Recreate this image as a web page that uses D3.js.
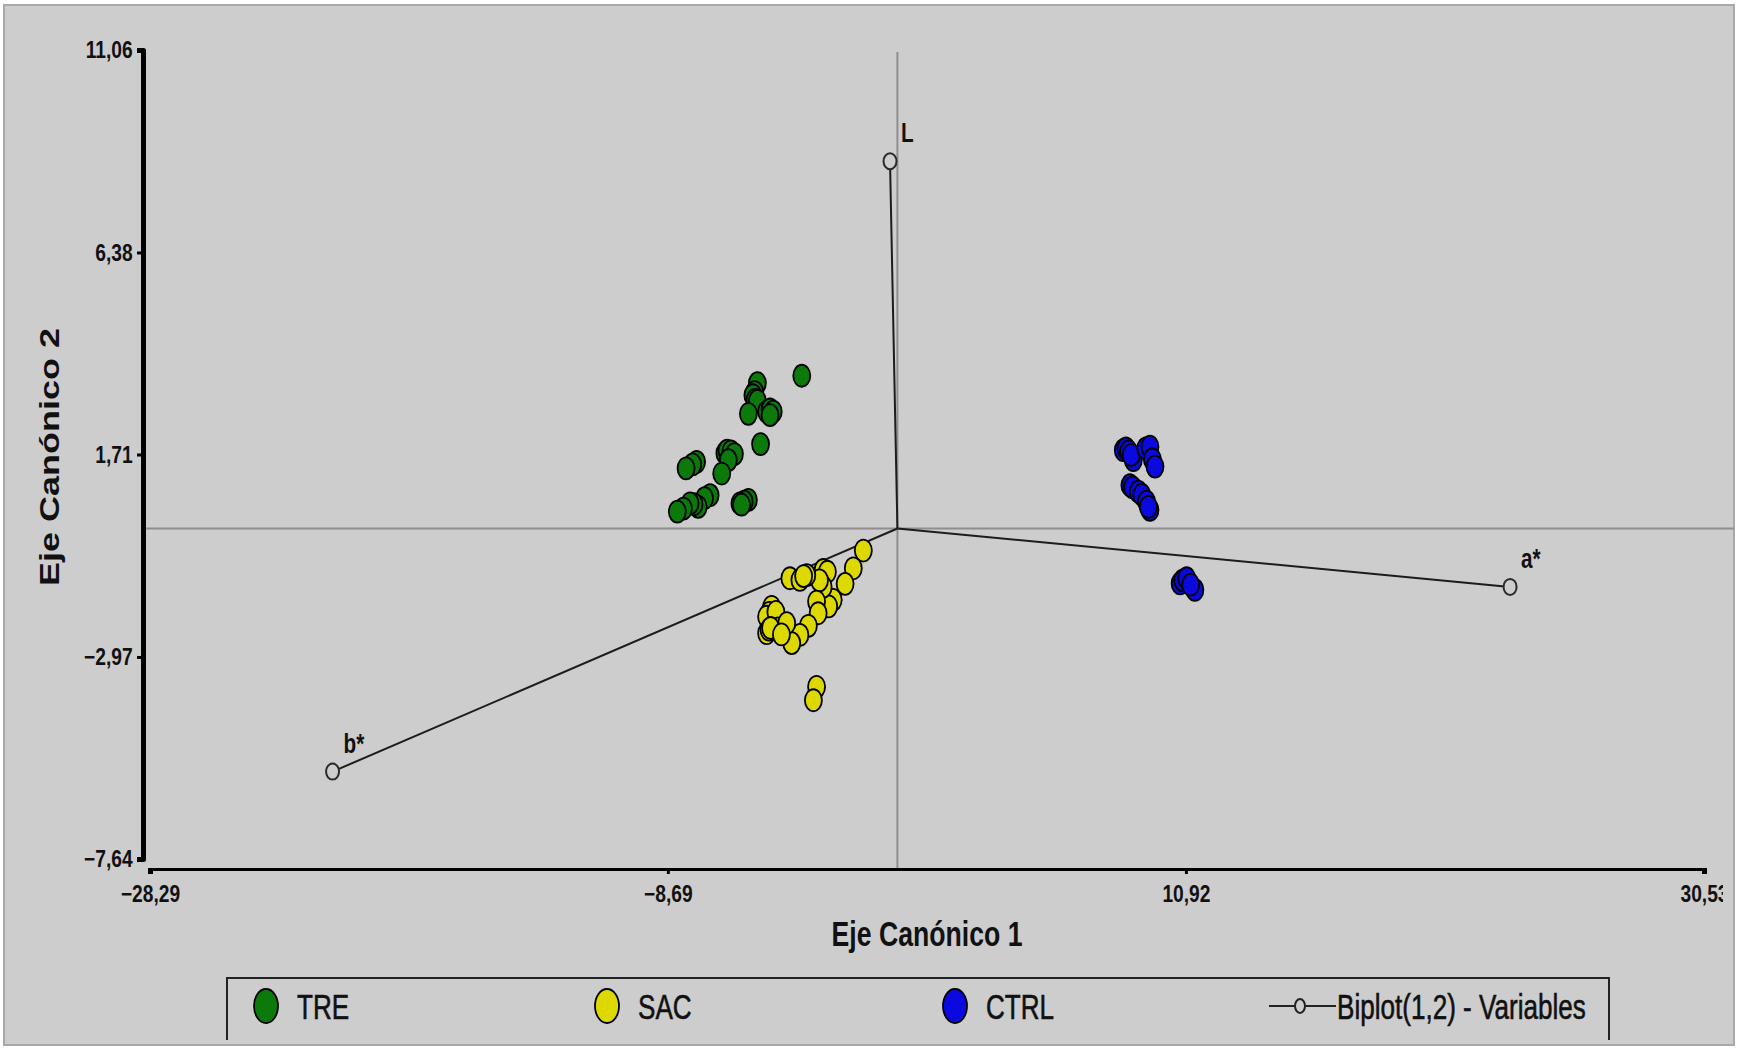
<!DOCTYPE html>
<html>
<head>
<meta charset="utf-8">
<script src="https://cdn.jsdelivr.net/npm/d3@7"></script>
<style>
  body { margin: 0; background: #fff; }
  svg { display: block; font-family: "Liberation Sans", Arial, sans-serif; }
</style>
</head>
<body>
<div id="chart"></div>
<script>
// Canonical scores per group, [eje 1, eje 2]
const treScores = [
  [-3.62, 3.53], [-5.30, 3.36], [-5.40, 3.15], [-5.47, 3.08], [-5.39, 2.97], [-5.30, 2.95],
  [-5.64, 2.65], [-4.95, 2.70], [-4.82, 2.75], [-4.70, 2.70], [-4.82, 2.62], [-5.18, 1.95],
  [-6.53, 1.74], [-6.45, 1.80], [-6.30, 1.78], [-6.17, 1.72], [-6.40, 1.58], [-6.65, 1.27],
  [-7.60, 1.54], [-7.75, 1.48], [-8.00, 1.39], [-7.09, 0.77], [-7.30, 0.70], [-7.54, 0.50],
  [-7.70, 0.56], [-7.85, 0.58], [-8.10, 0.46], [-8.33, 0.39], [-5.64, 0.66], [-5.80, 0.62],
  [-5.96, 0.58], [-5.90, 0.55]
];
const sacScores = [
  [-1.29, -0.51], [-1.67, -0.92], [-1.98, -1.28], [-2.43, -1.65], [-2.60, -1.80], [-2.81, -0.96],
  [-2.65, -1.00], [-2.81, -1.35], [-2.95, -1.20], [-3.06, -1.69], [-3.00, -1.96], [-3.37, -2.25],
  [-3.69, -2.46], [-4.00, -2.65], [-4.07, -1.15], [-3.69, -1.19], [-3.43, -1.08], [-3.55, -1.10],
  [-4.76, -1.81], [-4.85, -1.95], [-4.95, -2.04], [-4.60, -1.93], [-4.51, -2.31], [-4.95, -2.42],
  [-4.86, -2.34], [-4.80, -2.30], [-4.19, -2.19], [-4.39, -2.45], [-3.06, -3.66], [-3.18, -3.97]
];
const ctrlScores = [
  [8.55, 1.81], [8.65, 1.85], [8.75, 1.78], [8.93, 1.58], [8.85, 1.70], [9.40, 1.85],
  [9.56, 1.89], [9.65, 1.60], [9.75, 1.43], [8.80, 1.00], [8.90, 0.95], [9.12, 0.85],
  [9.25, 0.78], [9.43, 0.62], [9.56, 0.43], [9.50, 0.50], [10.70, -1.27], [10.80, -1.20],
  [10.95, -1.15], [11.26, -1.42], [11.10, -1.30]
];

const groupNames = ["TRE", "SAC", "CTRL"];
const groupColors = ["#0b7a0b", "#dcd800", "#0a0ae0"];

// Biplot variables
const varNames = ["L", "a*", "b*"];
const varX = [-0.28, 23.19, -21.38];
const varY = [8.49, -1.35, -5.62];

// Tick labels
const xTicks = [-28.29, -8.69, 10.92, 30.53];
const yTicks = [-7.64, -2.97, 1.71, 6.38, 11.06];

const W = 1738, H = 1049;
const bg = "#cdcdcd";
const squeeze = 0.74;

const svg = d3.select("#chart").append("svg")
  .attr("width", W)
  .attr("height", H);

// frame
svg.append("rect")
  .attr("x", 4).attr("y", 5)
  .attr("width", 1730).attr("height", 1040)
  .attr("fill", bg)
  .attr("stroke", "#a9a9a9")
  .attr("stroke-width", 2);

const x = d3.scaleLinear().domain([xTicks[0], xTicks[xTicks.length - 1]]).range([150, 1704]);
const y = d3.scaleLinear().domain([yTicks[0], yTicks[yTicks.length - 1]]).range([859, 50]);

const fmt = d => d3.format(".2f")(d).replace(".", ",");

// reference lines at 0
svg.append("line")
  .attr("x1", x(0)).attr("x2", x(0))
  .attr("y1", y(yTicks[yTicks.length - 1]) + 2).attr("y2", 868)
  .attr("stroke", "#8e8e8e").attr("stroke-width", 2);
svg.append("line")
  .attr("x1", 146).attr("x2", 1734)
  .attr("y1", y(0)).attr("y2", y(0))
  .attr("stroke", "#8e8e8e").attr("stroke-width", 2);

// axes
svg.append("clipPath").attr("id", "frameClip")
  .append("rect").attr("x", 0).attr("y", 0).attr("width", 1723).attr("height", H);

const xAxis = d3.axisBottom(x).tickValues(xTicks).tickFormat(fmt)
  .tickSize(6).tickSizeOuter(6).tickPadding(11);
const yAxis = d3.axisLeft(y).tickValues(yTicks).tickFormat(fmt)
  .tickSize(6).tickSizeOuter(6).tickPadding(7);

const gx = svg.append("g")
  .attr("transform", "translate(0,868)")
  .attr("clip-path", "url(#frameClip)")
  .call(xAxis);
const gy = svg.append("g")
  .attr("transform", "translate(143,0)")
  .call(yAxis);

[gx, gy].forEach(g => {
  g.select(".domain").attr("stroke", "#000").attr("stroke-width", 5).attr("stroke-linejoin", "round");
  g.selectAll(".tick line").attr("stroke", "#000").attr("stroke-width", 3);
  g.selectAll(".tick text")
    .attr("fill", "#111")
    .attr("font-size", 24)
    .attr("font-weight", "bold")
    .attr("font-family", "'Liberation Sans', Arial, sans-serif")
    .attr("transform", "scale(0.8,1)");
});

// axis titles
svg.append("text")
  .attr("transform", `translate(927,946) scale(${squeeze},1)`)
  .attr("text-anchor", "middle")
  .attr("font-size", 36)
  .attr("font-weight", "bold")
  .attr("fill", "#111")
  .text("Eje Canónico 1");
svg.append("text")
  .attr("transform", `translate(49,457) scale(0.78,1) rotate(-90)`)
  .attr("text-anchor", "middle")
  .attr("dy", "0.36em")
  .attr("font-size", 36)
  .attr("font-weight", "bold")
  .attr("fill", "#111")
  .text("Eje Canónico 2");

// biplot vectors
const vars = varNames.map((n, i) => ({ name: n, x: varX[i], y: varY[i] }));
svg.append("g").selectAll("line")
  .data(vars)
  .join("line")
    .attr("x1", x(0)).attr("y1", y(0))
    .attr("x2", d => x(d.x)).attr("y2", d => y(d.y))
    .attr("stroke", "#1c1c1c")
    .attr("stroke-width", 2);

// scatter points
const groups = [treScores, sacScores, ctrlScores].map((pts, i) => ({
  name: groupNames[i], color: groupColors[i], pts
}));
groups.forEach(gr => {
  svg.append("g").selectAll("ellipse")
    .data(gr.pts)
    .join("ellipse")
      .attr("cx", d => x(d[0]))
      .attr("cy", d => y(d[1]))
      .attr("rx", 8.5)
      .attr("ry", 11)
      .attr("fill", gr.color)
      .attr("stroke", "#000")
      .attr("stroke-width", 1.8);
});

// biplot markers and labels
svg.append("g").selectAll("ellipse")
  .data(vars)
  .join("ellipse")
    .attr("cx", d => x(d.x)).attr("cy", d => y(d.y))
    .attr("rx", 6.5).attr("ry", 8)
    .attr("fill", bg)
    .attr("stroke", "#2a2a2a")
    .attr("stroke-width", 2);
svg.append("g").selectAll("text")
  .data(vars)
  .join("text")
    .attr("transform", d => `translate(${x(d.x) + 11},${y(d.y) - 19}) scale(${squeeze},1)`)
    .attr("font-size", 28)
    .attr("font-weight", "bold")
    .attr("fill", "#111")
    .attr("stroke", bg)
    .attr("stroke-width", 6)
    .attr("paint-order", "stroke")
    .text(d => d.name);

// legend
const legend = svg.append("g");
legend.append("path")
  .attr("d", "M227,1040V978H1609V1040")
  .attr("fill", "none")
  .attr("stroke", "#222")
  .attr("stroke-width", 2);

const legendX = [266, 607, 955];
const ly = 1006;
groups.forEach((gr, i) => {
  legend.append("ellipse")
    .attr("cx", legendX[i]).attr("cy", ly)
    .attr("rx", 12).attr("ry", 17)
    .attr("fill", gr.color)
    .attr("stroke", "#000").attr("stroke-width", 1.8);
  legend.append("text")
    .attr("transform", `translate(${legendX[i] + 31},${ly + 13}) scale(0.745,1)`)
    .attr("font-size", 35)
    .attr("fill", "#111")
    .attr("stroke", "#111")
    .attr("stroke-width", 0.6)
    .text(gr.name);
});
legend.append("line")
  .attr("x1", 1269).attr("x2", 1336)
  .attr("y1", ly).attr("y2", ly)
  .attr("stroke", "#222").attr("stroke-width", 2);
legend.append("ellipse")
  .attr("cx", 1300).attr("cy", ly)
  .attr("rx", 5).attr("ry", 7)
  .attr("fill", bg)
  .attr("stroke", "#222").attr("stroke-width", 2);
legend.append("text")
  .attr("transform", `translate(1337,${ly + 13}) scale(0.745,1)`)
  .attr("font-size", 35)
  .attr("fill", "#111")
  .attr("stroke", "#111")
  .attr("stroke-width", 0.6)
  .text("Biplot(1,2) - Variables");
</script>
</body>
</html>
